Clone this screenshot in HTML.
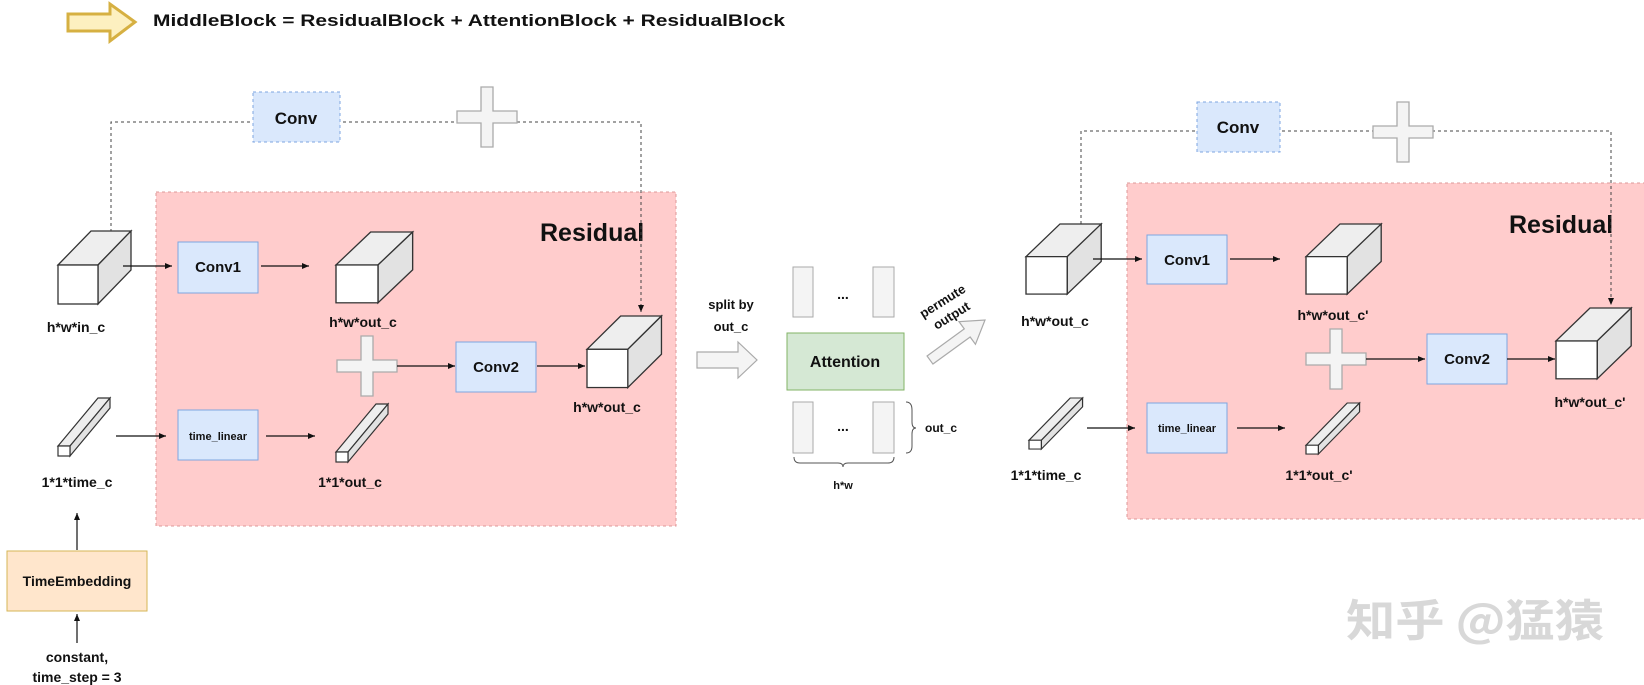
<!DOCTYPE html>
<html><head><meta charset="utf-8"><style>
html,body{margin:0;padding:0;background:#fff;}
svg{display:block;}
text{font-family:"Liberation Sans",Arial,sans-serif;font-weight:bold;fill:#111;}
</style></head><body>
<svg width="1644" height="685" viewBox="0 0 1644 685" xmlns="http://www.w3.org/2000/svg">
<defs>
<marker id="ah" markerWidth="8" markerHeight="8" refX="7" refY="4" orient="auto" markerUnits="userSpaceOnUse">
<path d="M0,1 L7,4 L0,7 Z" fill="#111"/></marker>
<g id="cube">
<polygon points="0,34 33,0 73,0 40,34" fill="#eeeeee" stroke="#333" stroke-width="1.3"/>
<polygon points="40,34 73,0 73,39 40,73" fill="#e2e2e2" stroke="#333" stroke-width="1.3"/>
<rect x="0" y="34" width="40" height="39" fill="#fff" stroke="#333" stroke-width="1.3"/>
</g>
<g id="bar">
<polygon points="0,48 40,0 52,0 12,48" fill="#eeeeee" stroke="#333" stroke-width="1.2"/>
<polygon points="12,48 52,0 52,10 12,58" fill="#e2e2e2" stroke="#333" stroke-width="1.2"/>
<rect x="0" y="48" width="12" height="10" fill="#fff" stroke="#333" stroke-width="1.2"/>
</g>
<g id="plus">
<polygon points="-6,-30 6,-30 6,-6 30,-6 30,6 6,6 6,30 -6,30 -6,6 -30,6 -30,-6 -6,-6" fill="#f4f4f4" stroke="#aaa" stroke-width="1.3"/>
</g>
</defs>

<!-- title -->
<polygon points="68,14 110,14 110,4 135,22 110,41 110,31 68,31" fill="#fdf0c0" stroke="#d6b042" stroke-width="3"/>
<text x="153" y="26" font-size="17" textLength="632" lengthAdjust="spacingAndGlyphs">MiddleBlock = ResidualBlock + AttentionBlock + ResidualBlock</text>

<!-- ===== LEFT ===== -->
<rect x="156" y="192" width="520" height="334" fill="#ffcccc" stroke="#d99" stroke-width="1" stroke-dasharray="3,3"/>
<text x="540" y="241" font-size="25">Residual</text>

<polyline points="111,232 111,122 641,122 641,312" fill="none" stroke="#444" stroke-width="1" stroke-dasharray="3,3" marker-end="url(#ah)"/>
<rect x="253" y="92" width="87" height="50" fill="#dae8fc" stroke="#7ea6e0" stroke-dasharray="3,3"/>
<text x="296" y="124" font-size="17" text-anchor="middle">Conv</text>
<use href="#plus" x="487" y="117"/>

<use href="#cube" x="58" y="231"/>
<text x="76" y="332" font-size="14" text-anchor="middle">h*w*in_c</text>
<line x1="123" y1="266" x2="172" y2="266" stroke="#111" stroke-width="1.2" marker-end="url(#ah)"/>
<rect x="178" y="242" width="80" height="51" fill="#dae8fc" stroke="#7ea6e0"/>
<text x="218" y="272" font-size="15" text-anchor="middle">Conv1</text>
<line x1="261" y1="266" x2="309" y2="266" stroke="#111" stroke-width="1.2" marker-end="url(#ah)"/>
<g transform="translate(336,232) scale(1.05,0.97)"><use href="#cube"/></g>
<text x="363" y="327" font-size="14" text-anchor="middle">h*w*out_c</text>

<use href="#plus" x="367" y="366"/>
<line x1="397" y1="366" x2="455" y2="366" stroke="#111" stroke-width="1.2" marker-end="url(#ah)"/>
<rect x="456" y="342" width="80" height="50" fill="#dae8fc" stroke="#7ea6e0"/>
<text x="496" y="372" font-size="15" text-anchor="middle">Conv2</text>
<line x1="537" y1="366" x2="585" y2="366" stroke="#111" stroke-width="1.2" marker-end="url(#ah)"/>
<g transform="translate(587,316) scale(1.02,0.98)"><use href="#cube"/></g>
<text x="607" y="412" font-size="14" text-anchor="middle">h*w*out_c</text>

<use href="#bar" x="58" y="398"/>
<text x="77" y="487" font-size="14" text-anchor="middle">1*1*time_c</text>
<line x1="116" y1="436" x2="166" y2="436" stroke="#111" stroke-width="1.2" marker-end="url(#ah)"/>
<rect x="178" y="410" width="80" height="50" fill="#dae8fc" stroke="#7ea6e0"/>
<text x="218" y="440" font-size="11" text-anchor="middle">time_linear</text>
<line x1="266" y1="436" x2="315" y2="436" stroke="#111" stroke-width="1.2" marker-end="url(#ah)"/>
<use href="#bar" x="336" y="404"/>
<text x="350" y="487" font-size="14" text-anchor="middle">1*1*out_c</text>

<line x1="77" y1="550" x2="77" y2="513" stroke="#111" stroke-width="1.2" marker-end="url(#ah)"/>
<rect x="7" y="551" width="140" height="60" fill="#ffe6cc" stroke="#d6b656"/>
<text x="77" y="586" font-size="14" text-anchor="middle">TimeEmbedding</text>
<line x1="77" y1="643" x2="77" y2="614" stroke="#111" stroke-width="1.2" marker-end="url(#ah)"/>
<text x="77" y="662" font-size="14" text-anchor="middle">constant,</text>
<text x="77" y="682" font-size="14" text-anchor="middle">time_step = 3</text>

<!-- ===== MIDDLE ===== -->
<text x="731" y="309" font-size="13" text-anchor="middle">split by</text>
<text x="731" y="331" font-size="13" text-anchor="middle">out_c</text>
<polygon points="697,352 738,352 738,342 757,360 738,378 738,368 697,368" fill="#f4f4f4" stroke="#aaa" stroke-width="1.2"/>

<rect x="793" y="267" width="20" height="50" fill="#f4f4f4" stroke="#aaa"/>
<rect x="873" y="267" width="21" height="50" fill="#f4f4f4" stroke="#aaa"/>
<text x="843" y="299" font-size="14" text-anchor="middle">...</text>
<rect x="787" y="333" width="117" height="57" fill="#d5e8d4" stroke="#82b366"/>
<text x="845" y="367" font-size="16" text-anchor="middle">Attention</text>
<rect x="793" y="402" width="20" height="51" fill="#f4f4f4" stroke="#aaa"/>
<rect x="873" y="402" width="21" height="51" fill="#f4f4f4" stroke="#aaa"/>
<text x="843" y="431" font-size="14" text-anchor="middle">...</text>
<path d="M906,402 Q912,402 912,410 L912,422 Q912,428 916,428 Q912,428 912,434 L912,446 Q912,453 906,453" fill="none" stroke="#555" stroke-width="1"/>
<text x="925" y="432" font-size="12">out_c</text>
<path d="M794,457 Q794,463 800,463 L838,463 Q843,463 843,467 Q843,463 848,463 L888,463 Q894,463 894,457" fill="none" stroke="#555" stroke-width="1"/>
<text x="843" y="489" font-size="11" text-anchor="middle">h*w</text>

<g transform="translate(948,310) rotate(-32)">
<text x="0" y="-6" font-size="13" text-anchor="middle">permute</text>
<text x="0" y="11" font-size="13" text-anchor="middle">output</text>
</g>
<g transform="translate(930,360) rotate(-36)">
<polygon points="0,-5 46,-5 46,-14 68,0 46,14 46,5 0,5" fill="#f4f4f4" stroke="#aaa" stroke-width="1.2"/>
</g>

<!-- ===== RIGHT ===== -->
<rect x="1127" y="183" width="530" height="336" fill="#ffcccc" stroke="#d99" stroke-width="1" stroke-dasharray="3,3"/>
<text x="1509" y="233" font-size="25">Residual</text>

<polyline points="1081,224 1081,131 1611,131 1611,305" fill="none" stroke="#444" stroke-width="1" stroke-dasharray="3,3" marker-end="url(#ah)"/>
<rect x="1197" y="102" width="83" height="50" fill="#dae8fc" stroke="#7ea6e0" stroke-dasharray="3,3"/>
<text x="1238" y="133" font-size="17" text-anchor="middle">Conv</text>
<use href="#plus" x="1403" y="132"/>

<g transform="translate(1026,224) scale(1.03,0.96)"><use href="#cube"/></g>
<text x="1055" y="326" font-size="14" text-anchor="middle">h*w*out_c</text>
<line x1="1093" y1="259" x2="1142" y2="259" stroke="#111" stroke-width="1.2" marker-end="url(#ah)"/>
<rect x="1147" y="235" width="80" height="49" fill="#dae8fc" stroke="#7ea6e0"/>
<text x="1187" y="265" font-size="15" text-anchor="middle">Conv1</text>
<line x1="1230" y1="259" x2="1280" y2="259" stroke="#111" stroke-width="1.2" marker-end="url(#ah)"/>
<g transform="translate(1306,224) scale(1.03,0.96)"><use href="#cube"/></g>
<text x="1333" y="320" font-size="14" text-anchor="middle">h*w*out_c'</text>

<use href="#plus" x="1336" y="359"/>
<line x1="1366" y1="359" x2="1425" y2="359" stroke="#111" stroke-width="1.2" marker-end="url(#ah)"/>
<rect x="1427" y="334" width="80" height="50" fill="#dae8fc" stroke="#7ea6e0"/>
<text x="1467" y="364" font-size="15" text-anchor="middle">Conv2</text>
<line x1="1507" y1="359" x2="1555" y2="359" stroke="#111" stroke-width="1.2" marker-end="url(#ah)"/>
<g transform="translate(1556,308) scale(1.03,0.97)"><use href="#cube"/></g>
<text x="1590" y="407" font-size="14" text-anchor="middle">h*w*out_c'</text>

<g transform="translate(1029,398) scale(1.03,0.88)"><use href="#bar"/></g>
<text x="1046" y="480" font-size="14" text-anchor="middle">1*1*time_c</text>
<line x1="1087" y1="428" x2="1135" y2="428" stroke="#111" stroke-width="1.2" marker-end="url(#ah)"/>
<rect x="1147" y="403" width="80" height="50" fill="#dae8fc" stroke="#7ea6e0"/>
<text x="1187" y="432" font-size="11" text-anchor="middle">time_linear</text>
<line x1="1237" y1="428" x2="1285" y2="428" stroke="#111" stroke-width="1.2" marker-end="url(#ah)"/>
<g transform="translate(1306,403) scale(1.03,0.88)"><use href="#bar"/></g>
<text x="1319" y="480" font-size="14" text-anchor="middle">1*1*out_c'</text>

<text x="1346" y="636" font-size="44" style="font-family:'Noto Sans CJK SC','WenQuanYi Zen Hei',sans-serif;fill:#d8d8d8;font-weight:bold" textLength="258" lengthAdjust="spacingAndGlyphs">知乎 @猛猿</text>
</svg>
</body></html>
